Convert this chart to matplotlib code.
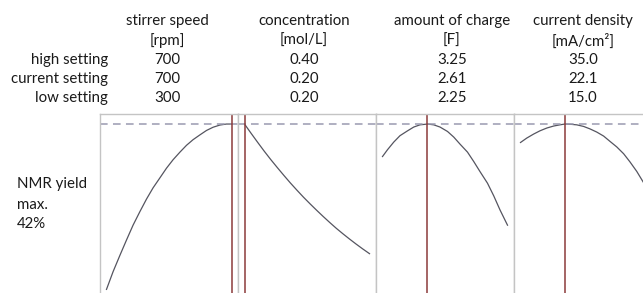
import numpy as np
import matplotlib
matplotlib.use("Agg")
import matplotlib.pyplot as plt

plt.rcParams['font.family'] = ['Lato', 'DejaVu Sans']

# factor settings
factors = ['stirrer speed', 'concentration', 'amount of charge', 'current density']
units = ['[rpm]', '[mol/L]', '[F]', '[mA/cm²]']
high_setting = ['700', '0.40', '3.25', '35.0']
current_setting = ['700', '0.20', '2.61', '22.1']
low_setting = ['300', '0.20', '2.25', '15.0']
low_vals = [300, 0.20, 2.25, 15.0]
high_vals = [700, 0.40, 3.25, 35.0]
current_vals = [700, 0.20, 2.61, 22.1]
max_yield = 42

# predicted NMR yield profiles (%)
speed_x = [300, 321, 343, 364, 385, 407, 428, 449, 471, 492, 513, 535,
           556, 577, 599, 620, 641, 663, 684, 700]
speed_y = [0.8, 5.2, 9.3, 13.1, 16.8, 20.2, 23.3, 26.1, 28.6, 31.0, 33.1, 35.0,
           36.7, 38.1, 39.3, 40.4, 41.2, 41.75, 42.0, 42.0]
conc_x = [0.20, 0.2105, 0.221, 0.2315, 0.242, 0.2525, 0.263, 0.2735, 0.284, 0.2945,
          0.305, 0.3155, 0.326, 0.3365, 0.347, 0.3575, 0.368, 0.3785, 0.389, 0.40]
conc_y = [42.0, 39.7, 37.45, 35.25, 33.15, 31.15, 29.2, 27.3, 25.5, 23.75,
          22.1, 20.5, 18.95, 17.45, 16.0, 14.65, 13.35, 12.1, 10.9, 9.7]
charge_x = [2.25, 2.29, 2.34, 2.39, 2.45, 2.50, 2.55, 2.61, 2.66, 2.71, 2.77,
            2.82, 2.87, 2.93, 2.98, 3.03, 3.09, 3.14, 3.19, 3.25]
charge_y = [33.9, 35.6, 37.5, 39.1, 40.3, 41.25, 41.8, 42.0, 41.8, 41.25, 40.15,
            38.75, 37.0, 35.0, 32.65, 30.15, 27.25, 24.1, 20.6, 16.8]
dens_x = [15.0, 16.0, 17.1, 18.1, 19.2, 20.3, 21.3, 22.1, 22.9, 24.0, 25.1,
          26.1, 27.2, 28.3, 29.3, 30.4, 31.5, 32.5, 33.6, 35.0]
dens_y = [37.4, 38.5, 39.5, 40.3, 41.0, 41.5, 41.8, 42.0, 41.95, 41.8, 41.4,
          40.8, 40.0, 39.0, 37.7, 36.3, 34.6, 32.6, 30.2, 26.6]
curves = [(speed_x, speed_y), (conc_x, conc_y), (charge_x, charge_y), (dens_x, dens_y)]

W, H = 643, 293
fig = plt.figure(figsize=(W / 100, H / 100), dpi=100)

panel_left = [100, 238, 376, 514]
panel_w = 138
top = 114
for i in range(4):
    ax = fig.add_axes([panel_left[i] / W, -2 / H, panel_w / W, (H - top + 2) / H])
    span = high_vals[i] - low_vals[i]
    ax.set_xlim(low_vals[i] - 0.052 * span, high_vals[i] + 0.052 * span)
    ax.set_ylim(-0.6, 44.5)
    x, y = curves[i]
    ax.plot(x, y, color='#555560', lw=0.9)
    ax.axhline(max_yield, color='#9a9ab0', lw=1.1, ls=(0, (5, 3.5)))
    ax.axvline(current_vals[i], color='#8b3a3a', lw=1.1)
    ax.set_xticks([])
    ax.set_yticks([])
    for s in ax.spines.values():
        s.set_color('#c4c4c4')
        s.set_linewidth(1.0)

# header table
col_x = [167, 304, 452, 583]
rows = [(factors, 21), (units, 41), (high_setting, 60), (current_setting, 79.5), (low_setting, 98)]
fs = 10.8
tc = '#1a1a1a'
for texts, yy in rows:
    for cx, t in zip(col_x, texts):
        fig.text(cx / W, 1 - yy / H, t, ha='center', va='center', fontsize=fs, color=tc)

row_labels = ['high setting', 'current setting', 'low setting']
for lab, yy in zip(row_labels, [60, 79.5, 98]):
    fig.text(108 / W, 1 - yy / H, lab, ha='right', va='center', fontsize=fs, color=tc)

for t, yy in zip(['NMR yield', 'max.', f'{max_yield}%'], [184, 205, 224]):
    fig.text(17 / W, 1 - yy / H, t, ha='left', va='center', fontsize=fs, color=tc)

fig.savefig('out.png', dpi=100, facecolor='white')
